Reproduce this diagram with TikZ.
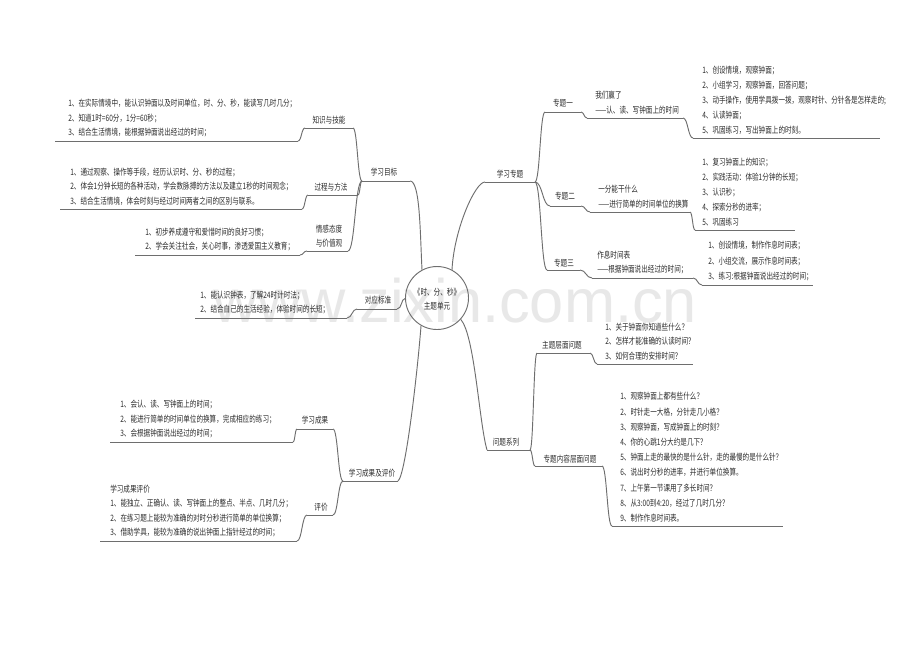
\documentclass[tikz,border=0pt]{standalone}
\usepackage{fontspec}
\setmainfont{Liberation Sans}
\newfontfamily\cjk[FakeStretch=0.75]{Noto Sans CJK SC}
\usetikzlibrary{calc}
\definecolor{txt}{RGB}{45,45,45}
\definecolor{lnc}{RGB}{110,110,110}
\definecolor{wm}{RGB}{232,232,232}
\newcommand\mmconn[2]{\path ($(#1)!0.5!(#2)$) coordinate (tmpm); \draw[ln] (#1) .. controls (#1 -| tmpm) and (#2 -| tmpm) .. (#2);}
\begin{document}
\begin{tikzpicture}[x=0.75pt,y=-0.75pt,
  ln/.style={draw=lnc,line width=0.7pt},
  lbl/.style={font=\cjk\fontsize{6.6}{10.9}\selectfont,text=txt,inner sep=0pt,align=center},
  lst/.style={font=\cjk\fontsize{6.6}{#1}\selectfont,text=txt,inner sep=0pt,align=left,anchor=south west},
  lst/.default=10.9]
\fill[white] (0,0) rectangle (920,651);
\useasboundingbox (0,0) rectangle (920,651);
% watermark
\node[font=\fontsize{46}{46}\selectfont,text=wm,anchor=base,inner sep=0pt] (wmk) at (455,322) {www.zixin.com.cn};

% centre
\node[circle,draw=lnc,line width=0.7pt,minimum size=63*0.75pt,inner sep=0pt] (ctr) at (437,298) {};
\node[lbl] (ctrt) at (437,299) {《时、分、秒》\\主题单元};

% ---------- coordinates of underlines ----------
% left
\coordinate (xmL) at (362,181); \coordinate (xmR) at (410,181);
\coordinate (zsL) at (305,128); \coordinate (zsR) at (353,128);
\coordinate (laL) at (55,141);  \coordinate (laR) at (298,141);
\coordinate (gcL) at (308,195); \coordinate (gcR) at (358,195);
\coordinate (lbL) at (60,209);  \coordinate (lbR) at (302,209);
\coordinate (qgL) at (307,251); \coordinate (qgR) at (348,251);
\coordinate (lcL) at (135,255); \coordinate (lcR) at (300,255);
\coordinate (dyL) at (357,309); \coordinate (dyR) at (397,309);
\coordinate (leL) at (195,318); \coordinate (leR) at (347,318);
\coordinate (cgL) at (343,481); \coordinate (cgR) at (398,481);
\coordinate (xcL) at (297,429); \coordinate (xcR) at (333,429);
\coordinate (lfL) at (110,442); \coordinate (lfR) at (293,442);
\coordinate (pjL) at (307,515); \coordinate (pjR) at (333,515);
\coordinate (lgL) at (100,541); \coordinate (lgR) at (297,541);
% right
\coordinate (ztL) at (485,182); \coordinate (ztR) at (535,182);
\coordinate (t1L) at (545,112); \coordinate (t1R) at (581,112);
\coordinate (w1L) at (587,118); \coordinate (w1R) at (683,118);
\coordinate (lhL) at (693,138); \coordinate (lhR) at (880,138);
\coordinate (t2L) at (550,206); \coordinate (t2R) at (581,206);
\coordinate (w2L) at (590,212); \coordinate (w2R) at (690,212);
\coordinate (liL) at (695,230); \coordinate (liR) at (795,230);
\coordinate (t3L) at (547,270); \coordinate (t3R) at (580,270);
\coordinate (w3L) at (592,278); \coordinate (w3R) at (693,278);
\coordinate (ljL) at (702,285); \coordinate (ljR) at (813,285);
\coordinate (wtL) at (487,450); \coordinate (wtR) at (530,450);
\coordinate (q1L) at (537,353); \coordinate (q1R) at (590,353);
\coordinate (lkL) at (597,364); \coordinate (lkR) at (693,364);
\coordinate (q2L) at (535,466); \coordinate (q2R) at (602,466);
\coordinate (llL) at (612,526); \coordinate (llR) at (783,526);

% underlines
\foreach \u in {xm,zs,la,gc,lb,qg,lc,dy,le,cg,xc,lf,pj,lg,zt,t1,w1,lh,t2,w2,li,t3,w3,lj,wt,q1,lk,q2,ll}
  \draw[ln] (\u L) -- (\u R);

% ---------- labels ----------
\node[lbl] (xm) at (384,172) {学习目标};
\node[lbl] (zs) at (329,120) {知识与技能};
\node[lbl] (gc) at (331,187) {过程与方法};
\node[lbl] (qg) at (329,236) {情感态度\\与价值观};
\node[lbl] (dy) at (378,300) {对应标准};
\node[lbl] (cg) at (372,473) {学习成果及评价};
\node[lbl] (xc) at (315,420) {学习成果};
\node[lbl] (pj) at (321,507) {评价};
\node[lbl] (zt) at (510,174) {学习专题};
\node[lbl] (t1) at (563,103) {专题一};
\node[lbl] (t2) at (565,196) {专题二};
\node[lbl] (t3) at (564,263) {专题三};
\node[lbl] (wt) at (506,442) {问题系列};
\node[lbl] (q1) at (562,345) {主题层面问题};
\node[lbl] (q2) at (570,459) {专题内容层面问题};

\node[lst] (w1) at (595,114.5) {我们赢了\\——认、读、写钟面上的时间};
\node[lst] (w2) at (598,208.5) {一分能干什么\\——进行简单的时间单位的换算};
\node[lst] (w3) at (597,274.5) {作息时间表\\——根据钟面说出经过的时间；};

% ---------- lists ----------
\node[lst] (la) at (68,137.5) {1、在实际情境中，能认识钟面以及时间单位，时、分、秒，能读写几时几分；\\2、知道1时=60分，1分=60秒；\\3、结合生活情境，能根据钟面说出经过的时间；};
\node[lst] (lb) at (70,205.5) {1、通过观察、操作等手段，经历认识时、分、秒的过程；\\2、体会1分钟长短的各种活动，学会数脉搏的方法以及建立1秒的时间观念；\\3、结合生活情境，体会时刻与经过时间两者之间的区别与联系。};
\node[lst] (lc) at (145,251.5) {1、初步养成遵守和爱惜时间的良好习惯；\\2、学会关注社会，关心时事，渗透爱国主义教育；};
\node[lst] (le) at (200,314.5) {1、能认识钟表，了解24时计时法；\\2、结合自己的生活经验，体验时间的长短；};
\node[lst] (lf) at (120,438.5) {1、会认、读、写钟面上的时间；\\2、能进行简单的时间单位的换算，完成相应的练习；\\3、会根据钟面说出经过的时间；};
\node[lst] (lg) at (110,537.5) {学习成果评价\\1、能独立、正确认、读、写钟面上的整点、半点、几时几分；\\2、在练习题上能较为准确的对时分秒进行简单的单位换算；\\3、借助学具，能较为准确的说出钟面上指针经过的时间；};
\node[lst=11.25] (lh) at (702,134.5) {1、创设情境，观察钟面；\\2、小组学习，观察钟面，回答问题；\\3、动手操作，使用学具拨一拨，观察时针、分针各是怎样走的;\\4、认读钟面；\\5、巩固练习，写出钟面上的时刻。};
\node[lst=11.25] (li) at (702,226.5) {1、复习钟面上的知识；\\2、实践活动：体验1分钟的长短；\\3、认识秒；\\4、探索分秒的进率；\\5、巩固练习};
\node[lst=11.6] (lj) at (708,281.5) {1、创设情境，制作作息时间表；\\2、小组交流，展示作息时间表；\\3、练习:根据钟面说出经过的时间；};
\node[lst] (lk) at (605,360.5) {1、关于钟面你知道些什么？\\2、怎样才能准确的认读时间？\\3、如何合理的安排时间？};
\node[lst=11.4] (ll) at (620,522.5) {1、观察钟面上都有些什么？\\2、时针走一大格，分针走几小格？\\3、观察钟面，写成钟面上的时刻？\\4、你的心跳1分大约是几下？\\5、钟面上走的最快的是什么针，走的最慢的是什么针？\\6、说出时分秒的进率，并进行单位换算。\\7、上午第一节课用了多长时间？\\8、从3:00到4:20，经过了几时几分？\\9、制作作息时间表。};

% ---------- connectors ----------
% centre to main branches
\draw[ln] (xmR) .. controls +(10,0) and +(-2,-40) .. (ctr.118);
\draw[ln] (ztL) .. controls +(-10,0) and +(2,-40) .. (ctr.62);
\draw[ln] (dyR) .. controls +(5,0) and +(-4,0) .. (ctr.181);
\draw[ln] (cgR) .. controls +(8,-6) and +(-3,40) .. (ctr.240);
\draw[ln] (ctr.-42) .. controls +(14,16) and +(-8,-28) .. (wtL);
% left level 2
\mmconn{zsR}{xmL}
\mmconn{gcR}{xmL}
\mmconn{qgR}{xmL}
\mmconn{xcR}{cgL}
\mmconn{pjR}{cgL}
% left leaves
\mmconn{laR}{zsL}
\mmconn{lbR}{gcL}
\mmconn{lcR}{qgL}
\mmconn{leR}{dyL}
\mmconn{lfR}{xcL}
\mmconn{lgR}{pjL}
% right level 2
\mmconn{ztR}{t1L}
\mmconn{ztR}{t2L}
\mmconn{ztR}{t3L}
\mmconn{wtR}{q1L}
\mmconn{wtR}{q2L}
% right level 3 and leaves
\mmconn{t1R}{w1L}
\mmconn{w1R}{lhL}
\mmconn{t2R}{w2L}
\mmconn{w2R}{liL}
\mmconn{t3R}{w3L}
\mmconn{w3R}{ljL}
\mmconn{q1R}{lkL}
\mmconn{q2R}{llL}
\end{tikzpicture}
\end{document}
